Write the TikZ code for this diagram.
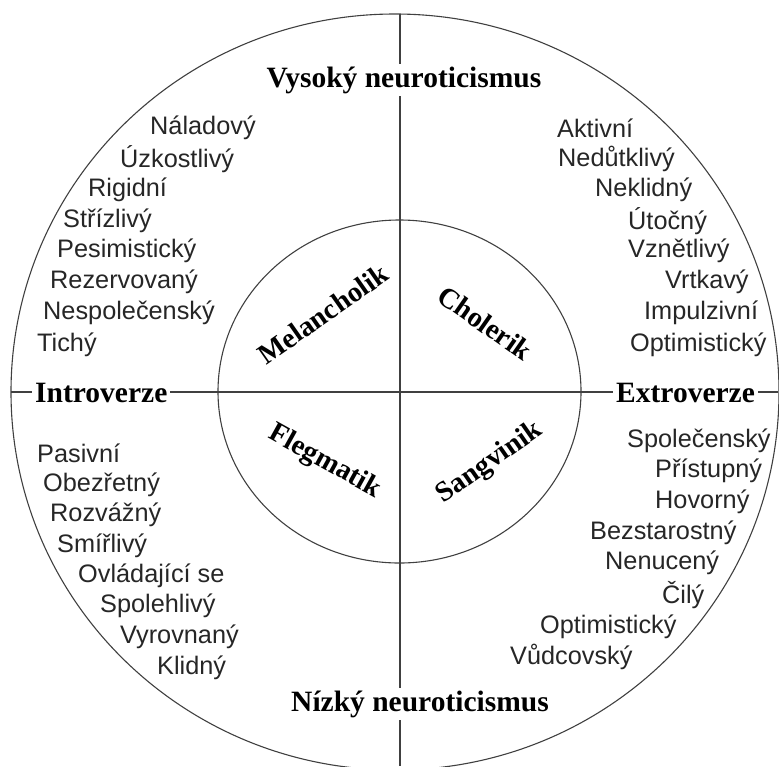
\documentclass[tikz,border=0pt]{standalone}
\usepackage{fontspec}
\setmainfont{Liberation Serif}
\newfontfamily\labelfont{Liberation Sans}
\begin{document}
\begin{tikzpicture}[x=1pt,y=-1pt,
  trait/.style={anchor=west,inner sep=0pt,text=black!85,font=\labelfont\fontsize{25.3}{29}\selectfont},
  axis/.style={fill=white,inner sep=3pt,font=\bfseries\fontsize{29.5}{33}\selectfont},
  temper/.style={inner sep=0pt,font=\bfseries\fontsize{28.5}{32}\selectfont},
  ring/.style={draw=black!75,line width=1.1pt}]
\useasboundingbox (0,0) rectangle (779,766);
% outer and inner rings
\draw[ring] (395,392) ellipse [x radius=384, y radius=378];
\draw[ring] (399.5,391.5) ellipse [x radius=181.5, y radius=171.5];
% axes
\coordinate (n) at (400,14);
\coordinate (s) at (400,766);
\coordinate (w) at (11,392);
\coordinate (e) at (778,392);
\draw[ring] (n) -- (s);
\draw[ring] (w) -- (e);
% axis labels
\node[axis] (hi) at (404,80) {Vysoký neuroticismus};
\node[axis] (lo) at (420,704) {Nízký neuroticismus};
\node[axis,anchor=west] (intro) at (32,393) {Introverze};
\node[axis,anchor=west] (extro) at (613,393) {Extroverze};
% temperaments
\node[temper,rotate=35] (mel) at (323,314) {Melancholik};
\node[temper,rotate=-35] (cho) at (485,323) {Cholerik};
\node[temper,rotate=-29] (fle) at (325,462) {Flegmatik};
\node[temper,rotate=35] (san) at (490,463) {Sangvinik};
% traits: introvert, high neuroticism
\node[trait] (a1) at (150,128) {Náladový};
\node[trait] (a2) at (120,159) {Úzkostlivý};
\node[trait] (a3) at (88,190) {Rigidní};
\node[trait] (a4) at (63,221) {Střízlivý};
\node[trait] (a5) at (57,251) {Pesimistický};
\node[trait] (a6) at (50,282) {Rezervovaný};
\node[trait] (a7) at (43,313) {Nespolečenský};
\node[trait] (a8) at (37,345) {Tichý};
% traits: extravert, high neuroticism
\node[trait] (b1) at (557,128) {Aktivní};
\node[trait] (b2) at (558,159) {Nedůtklivý};
\node[trait] (b3) at (595,190) {Neklidný};
\node[trait] (b4) at (628,221) {Útočný};
\node[trait] (b5) at (628,251) {Vznětlivý};
\node[trait] (b6) at (665,282) {Vrtkavý};
\node[trait] (b7) at (644,313) {Impulzivní};
\node[trait] (b8) at (630,345) {Optimistický};
% traits: introvert, low neuroticism
\node[trait] (c1) at (37,453) {Pasivní};
\node[trait] (c2) at (43,485) {Obezřetný};
\node[trait] (c3) at (50,515) {Rozvážný};
\node[trait] (c4) at (57,546) {Smířlivý};
\node[trait] (c5) at (78,576) {Ovládající se};
\node[trait] (c6) at (100,606) {Spolehlivý};
\node[trait] (c7) at (120,637) {Vyrovnaný};
\node[trait] (c8) at (157,668) {Klidný};
% traits: extravert, low neuroticism
\node[trait] (d1) at (627,441) {Společenský};
\node[trait] (d2) at (655,471) {Přístupný};
\node[trait] (d3) at (655,502) {Hovorný};
\node[trait] (d4) at (590,533) {Bezstarostný};
\node[trait] (d5) at (605,563) {Nenucený};
\node[trait] (d6) at (662,595) {Čilý};
\node[trait] (d7) at (540,627) {Optimistický};
\node[trait] (d8) at (510,657) {Vůdcovský};
\end{tikzpicture}
\end{document}
